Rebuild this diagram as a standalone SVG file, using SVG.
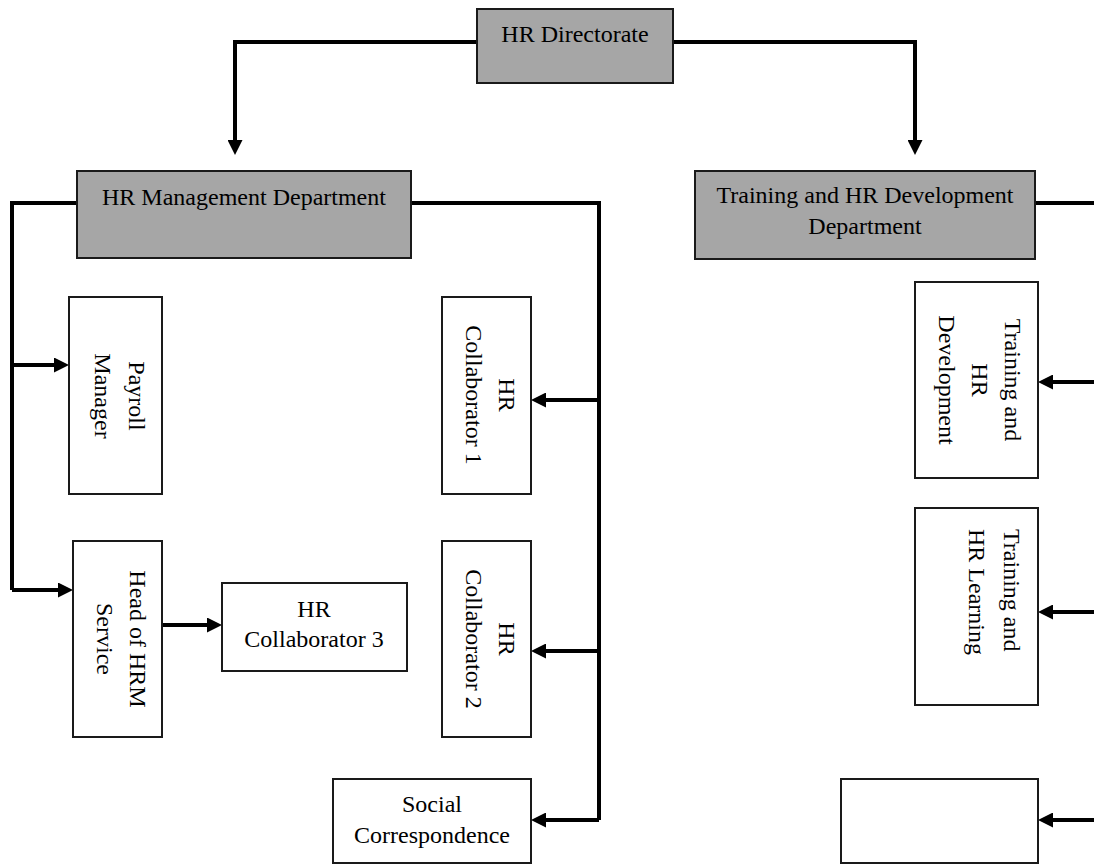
<svg xmlns="http://www.w3.org/2000/svg" width="1094" height="864" viewBox="0 0 1094 864">
  <defs>
    <marker id="arrow" viewBox="0 0 15 15" markerWidth="15" markerHeight="15" refX="4" refY="7.5" orient="auto" markerUnits="userSpaceOnUse">
      <path d="M0,0 L15,7.5 L0,15 z" fill="#000"/>
    </marker>
    <style>
      .box { fill: #fff; stroke: #1a1a1a; stroke-width: 2; }
      .dept { fill: #a6a6a6; stroke: #1a1a1a; stroke-width: 2; }
      .lbl { font-family: "Liberation Serif", "Times New Roman", serif; font-size: 24px; fill: #000; }
      .mid { text-anchor: middle; }
      .wire { fill: none; stroke: #000; stroke-width: 4; stroke-linejoin: miter; }
      .arr { marker-end: url(#arrow); }
    </style>
  </defs>
  <rect width="1094" height="864" fill="#fff"/>

  <!-- connectors -->
  <g id="connectors">
    <!-- directorate to departments -->
    <path class="wire arr" d="M477,42 H235 V144"/>
    <path class="wire arr" d="M673,42 H915 V144"/>
    <!-- HR management, left branch -->
    <path class="wire" d="M77,203 H12 V590"/>
    <path class="wire arr" d="M12,365 H58"/>
    <path class="wire arr" d="M12,590 H62"/>
    <!-- HR management, right branch -->
    <path class="wire" d="M411,203 H599 V820"/>
    <path class="wire arr" d="M599,400 H542"/>
    <path class="wire arr" d="M599,651 H542"/>
    <path class="wire arr" d="M599,820 H542"/>
    <!-- head of service to collaborator 3 -->
    <path class="wire arr" d="M162,625 H211"/>
    <!-- training department branch -->
    <path class="wire" d="M1035,203 H1100"/>
    <path class="wire arr" d="M1100,382 H1049"/>
    <path class="wire arr" d="M1100,612 H1049"/>
    <path class="wire arr" d="M1100,820 H1049"/>
  </g>

  <g id="hr-directorate">
    <rect class="dept" x="477" y="9" width="196" height="74"/>
    <text class="lbl mid" x="575" y="42">HR Directorate</text>
  </g>

  <g id="hr-management">
    <rect class="dept" x="77" y="171" width="334" height="87"/>
    <text class="lbl mid" x="244" y="205">HR Management Department</text>
  </g>

  <g id="training-department">
    <rect class="dept" x="695" y="171" width="340" height="88"/>
    <text class="lbl mid" x="865" y="203">Training and HR Development</text>
    <text class="lbl mid" x="865" y="234">Department</text>
  </g>

  <g id="payroll-manager">
    <rect class="box" x="69" y="297" width="93" height="197"/>
    <text class="lbl mid" transform="translate(129,396) rotate(90)"><tspan x="0" y="0">Payroll</tspan><tspan x="0" y="34">Manager</tspan></text>
  </g>

  <g id="head-of-hrm">
    <rect class="box" x="73" y="541" width="89" height="196"/>
    <text class="lbl mid" transform="translate(130,639) rotate(90)"><tspan x="0" y="0">Head of HRM</tspan><tspan x="0" y="33">Service</tspan></text>
  </g>

  <g id="hr-collaborator-3">
    <rect class="box" x="222" y="583" width="185" height="88"/>
    <text class="lbl mid" x="314" y="617">HR</text>
    <text class="lbl mid" x="314" y="647">Collaborator 3</text>
  </g>

  <g id="hr-collaborator-1">
    <rect class="box" x="442" y="297" width="89" height="197"/>
    <text class="lbl mid" transform="translate(499,395) rotate(90)"><tspan x="0" y="0">HR</tspan><tspan x="0" y="33">Collaborator 1</tspan></text>
  </g>

  <g id="hr-collaborator-2">
    <rect class="box" x="442" y="541" width="89" height="196"/>
    <text class="lbl mid" transform="translate(499,639) rotate(90)"><tspan x="0" y="0">HR</tspan><tspan x="0" y="33">Collaborator 2</tspan></text>
  </g>

  <g id="social-correspondence">
    <rect class="box" x="333" y="779" width="198" height="84"/>
    <text class="lbl mid" x="432" y="812">Social</text>
    <text class="lbl mid" x="432" y="843">Correspondence</text>
  </g>

  <g id="training-hr-development">
    <rect class="box" x="915" y="282" width="123" height="196"/>
    <text class="lbl mid" transform="translate(1005,380) rotate(90)"><tspan x="0" y="0">Training and</tspan><tspan x="0" y="33">HR</tspan><tspan x="0" y="66">Development</tspan></text>
  </g>

  <g id="training-hr-learning">
    <rect class="box" x="915" y="508" width="123" height="197"/>
    <text class="lbl" transform="translate(1004,529) rotate(90)"><tspan x="0" y="0">Training and</tspan><tspan x="0" y="35">HR Learning</tspan></text>
  </g>

  <g id="unlabelled-unit">
    <rect class="box" x="841" y="779" width="197" height="84"/>
  </g>
</svg>
